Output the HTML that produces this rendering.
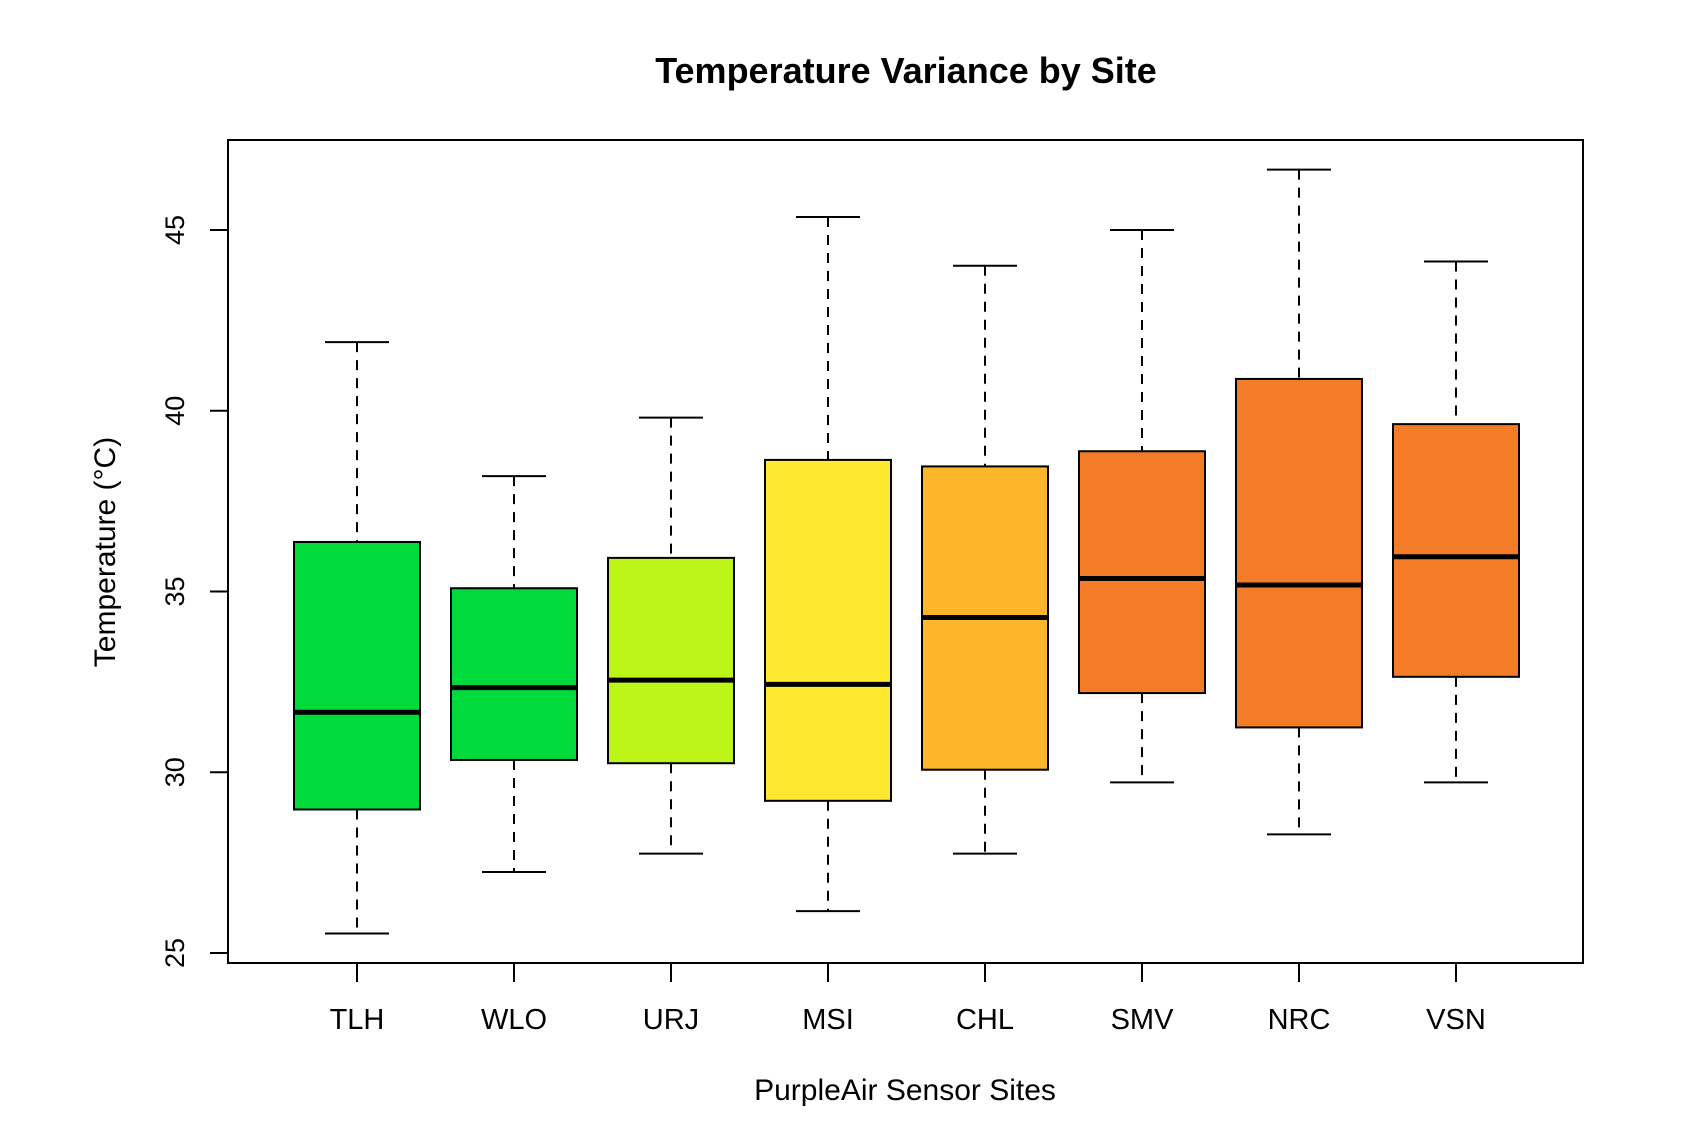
<!DOCTYPE html>
<html><head><meta charset="utf-8"><style>
body{margin:0;background:#fff}
svg text{font-family:"Liberation Sans",Arial,sans-serif;fill:#000}
</style></head><body>
<svg id="chart" width="1690" height="1140" xmlns="http://www.w3.org/2000/svg">
<rect width="1690" height="1140" fill="#fff"/>
<text x="906" y="83" text-anchor="middle" font-size="36" font-weight="bold">Temperature Variance by Site</text>
<rect x="228" y="140" width="1355" height="823" fill="none" stroke="#000" stroke-width="2"/>
<g id="yaxis"></g>
<g id="xaxis"></g>
<g id="boxes"></g>
<text transform="translate(115,552) rotate(-90)" text-anchor="middle" font-size="30">Temperature (°C)</text>
<text x="905" y="1100" text-anchor="middle" font-size="30">PurpleAir Sensor Sites</text>
</svg>
<script>
const sites=["TLH","WLO","URJ","MSI","CHL","SMV","NRC","VSN"];
const whiskerHigh=[41.9,38.19,39.81,45.36,44.01,45.0,46.67,44.13];
const q3=[36.37,35.09,35.93,38.64,38.46,38.88,40.88,39.63];
const medians=[31.66,32.34,32.55,32.43,34.28,35.36,35.18,35.96];
const q1=[28.97,30.34,30.25,29.21,30.07,32.19,31.24,32.64];
const whiskerLow=[25.54,27.24,27.75,26.16,27.75,29.72,28.28,29.72];
const fills=["#00DA3A","#00DA3A","#BEF518","#FFE830","#FDB52A","#F47C26","#F47C26","#F47C26"];
const yTicks=[25,30,35,40,45];
const NS="http://www.w3.org/2000/svg";
function y(v){return 953-(v-25)*36.15;}
function x(i){return 357+i*157;}
function mk(tag,attrs,parent){const e=document.createElementNS(NS,tag);for(const k in attrs)e.setAttribute(k,attrs[k]);parent.appendChild(e);return e;}
const ya=document.getElementById('yaxis'),xa=document.getElementById('xaxis'),bx=document.getElementById('boxes');
yTicks.forEach(t=>{
  const l=mk('line',{x1:210,x2:228,y1:y(t),y2:y(t),stroke:'#000','stroke-width':2},ya);
  
  
  const tx=mk('text',{transform:`translate(184,${y(t)}) rotate(-90)`,'text-anchor':'middle','font-size':27},ya);
  tx.textContent=t;
  
  
});
sites.forEach((s,i)=>{
  const cx=x(i);
  const l=mk('line',{x1:cx,x2:cx,y1:963,y2:982,stroke:'#000','stroke-width':2},xa);
  
  
  const tx=mk('text',{x:cx,y:1029,'text-anchor':'middle','font-size':29},xa);
  tx.textContent=s;
  
  
  const g=mk('g',{},bx);
  
  
  mk('line',{x1:cx,x2:cx,y1:y(whiskerHigh[i]),y2:y(q3[i]),stroke:'#000','stroke-width':2,'stroke-dasharray':'10,8'},g);
  mk('line',{x1:cx,x2:cx,y1:y(q1[i]),y2:y(whiskerLow[i]),stroke:'#000','stroke-width':2,'stroke-dasharray':'10,8'},g);
  mk('line',{x1:cx-32,x2:cx+32,y1:y(whiskerHigh[i]),y2:y(whiskerHigh[i]),stroke:'#000','stroke-width':2},g);
  mk('line',{x1:cx-32,x2:cx+32,y1:y(whiskerLow[i]),y2:y(whiskerLow[i]),stroke:'#000','stroke-width':2},g);
  mk('rect',{x:cx-63,y:y(q3[i]),width:126,height:y(q1[i])-y(q3[i]),fill:fills[i],stroke:'#000','stroke-width':2},g);
  mk('line',{x1:cx-63,x2:cx+63,y1:y(medians[i]),y2:y(medians[i]),stroke:'#000','stroke-width':5},g);
});
</script>
</body></html>
